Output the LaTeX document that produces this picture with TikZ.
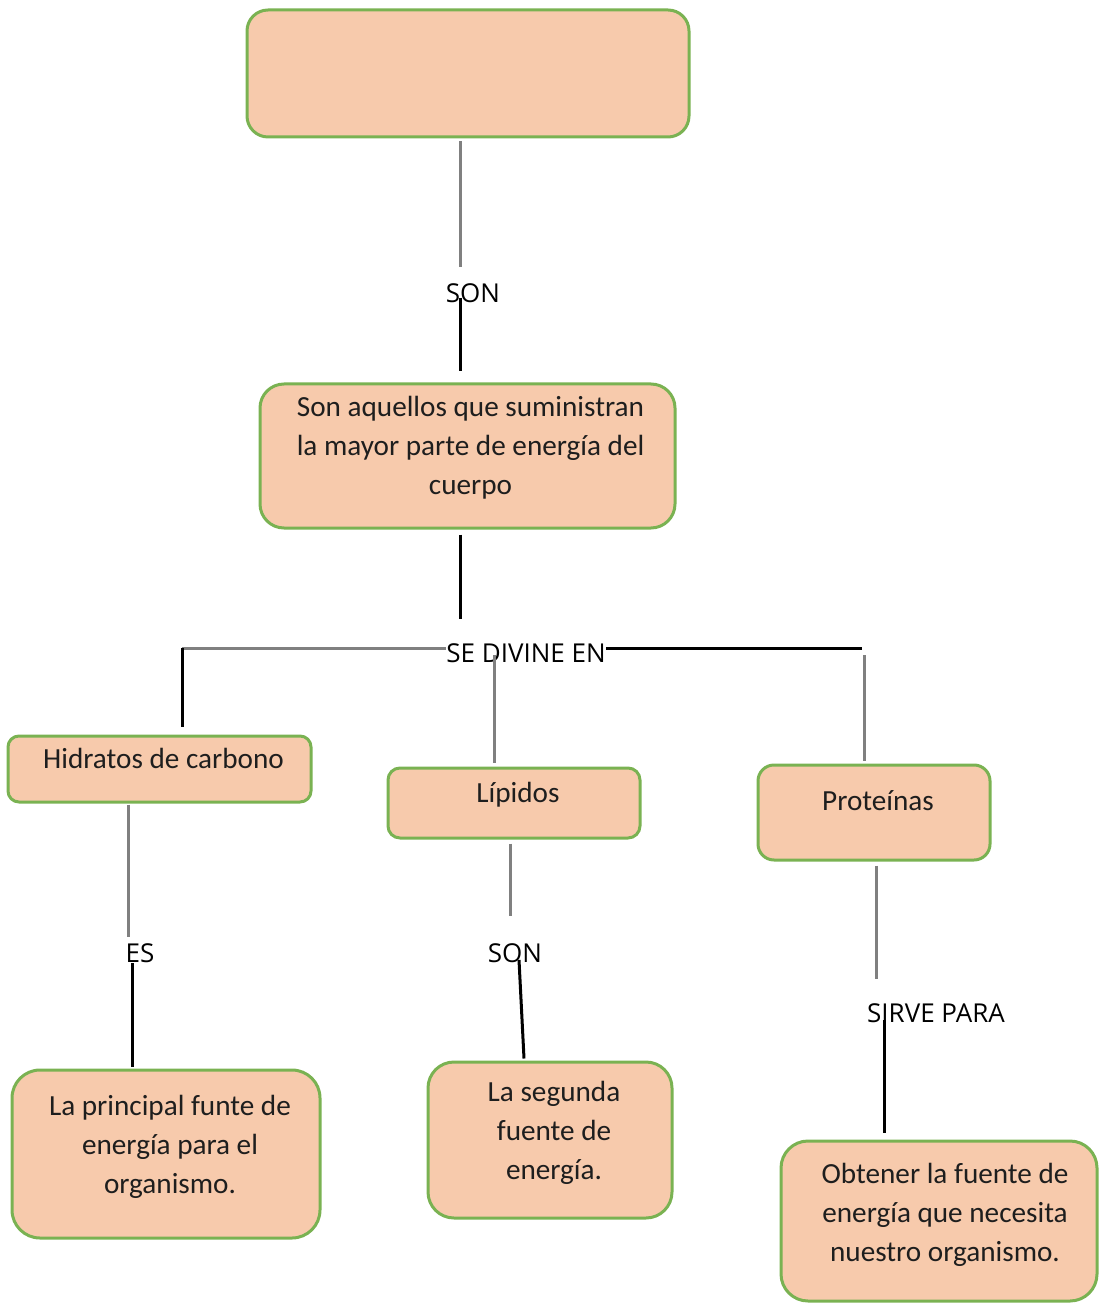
\documentclass[tikz,border=0pt]{standalone}
\usepackage{fontspec}
\setmainfont{Carlito}
\newfontfamily\tagfont{Open Sans}
\usetikzlibrary{positioning}
\definecolor{boxfill}{RGB}{247,202,172}
\definecolor{boxline}{RGB}{122,178,82}
\definecolor{linegray}{RGB}{128,128,128}
\definecolor{inkgray}{RGB}{30,30,30}

\begin{document}
\begin{tikzpicture}[x=0.5pt,y=-0.5pt,
  box/.style={draw=boxline,line width=1.5pt,fill=boxfill,inner sep=0pt},
  boxtext/.style={align=center,text=inkgray,inner sep=0pt,font=\fontsize{14.6}{19.4}\selectfont},
  tag/.style={inner sep=0pt,font=\tagfont\fontsize{13}{15}\selectfont},
  grayline/.style={draw=linegray,line width=1.5pt},
  blackline/.style={draw=black,line width=1.5pt}]

\useasboundingbox (0,0) rectangle (1101,1304);

% boxes
\node (top) [box,minimum width=221pt,minimum height=63.5pt,rounded corners=10.5pt] at (468,73.5) {};
\node (def) [box,minimum width=207.5pt,minimum height=72pt,rounded corners=12pt] at (467.5,456) {};
\node (hc) [box,minimum width=151.5pt,minimum height=33pt,rounded corners=5.5pt] at (159.5,769) {};
\node (lip) [box,minimum width=126pt,minimum height=35pt,rounded corners=6pt] at (514,803) {};
\node (pro) [box,minimum width=116pt,minimum height=47.5pt,rounded corners=8pt] at (874,812.5) {};
\node (eb) [box,minimum width=154pt,minimum height=84pt,rounded corners=14pt] at (166,1154) {};
\node (lb) [box,minimum width=122pt,minimum height=78pt,rounded corners=13pt] at (550,1140) {};
\node (pb) [box,minimum width=158pt,minimum height=80pt,rounded corners=13.5pt] at (939,1221) {};

% box texts
\node (deft) [boxtext] at ([xshift=1.5pt,yshift=4pt]def.center) {Son aquellos que suministran\\la mayor parte de energía del\\cuerpo};
\node (hct) [boxtext] at ([xshift=2pt,yshift=5.5pt]hc.center) {Hidratos de carbono};
\node (lipt) [boxtext] at ([xshift=2pt,yshift=4pt]lip.center) {Lípidos};
\node (prot) [boxtext] at ([xshift=2pt,yshift=6pt]pro.center) {Proteínas};
\node (ebt) [boxtext] at ([xshift=2pt,yshift=3.5pt]eb.center) {La principal funte de\\energía para el\\organismo.};
\node (lbt) [boxtext] at ([xshift=2pt,yshift=3.5pt]lb.center) {La segunda\\fuente de\\energía.};
\node (pbt) [boxtext] at ([xshift=3pt,yshift=3pt]pb.center) {Obtener la fuente de\\energía que necesita\\nuestro organismo.};

% labels
\node (son1) [tag] at (473,293) {SON};
\node (divide) [tag] at (526,653) {SE DIVINE EN};
\node (es) [tag] at (140,953) {ES};
\node (son2) [tag] at (515,953) {SON};
\node (serve) [tag] at (936,1013) {SIRVE PARA};

% columns and junctions
\coordinate (c1) at (460,0);
\coordinate (jl) at (182,648);
\coordinate (jm) at (494,655);
\coordinate (jr) at (864,648);
\coordinate (c2) at (128,0);
\coordinate (c2b) at (132,0);
\coordinate (c3) at (510,0);
\coordinate (c4) at (876,0);
\coordinate (c4b) at (884,0);

% top branch
\draw[grayline,shorten <=1.5pt,shorten >=7.8pt] (top.south -| c1) -- (son1.north -| c1);
\draw[blackline,shorten >=5.5pt] ([yshift=-2.5pt]son1.center -| c1) -- (def.north -| c1);
\draw[blackline,shorten <=2.5pt,shorten >=12pt] (def.south -| c1) -- (divide.north -| c1);

% division
\draw[grayline] (jl) -- (jl -| divide.west);
\draw[blackline] (jl -| divide.east) -- ([xshift=-1pt]jr);
\draw[blackline,shorten >=4pt] (jl) -- (hc.north -| jl);
\draw[grayline,shorten >=2pt] (jm) -- (lip.north -| jm);
\draw[grayline,shorten >=1.5pt] ([yshift=-3.5pt]jr) -- (pro.north -| jr);

% lower branches
\draw[grayline,shorten <=0.5pt,shorten >=3pt] (hc.south -| c2) -- (es.north -| c2);
\draw[blackline,shorten >=1pt] ([yshift=-5pt]es.center -| c2b) -- (eb.north -| c2b);
\draw[grayline,shorten <=2pt,shorten >=13.5pt] (lip.south -| c3) -- (son2.north -| c3);
\draw[blackline] ([xshift=2pt,yshift=-3.5pt]son2.center) -- ([xshift=-13pt,yshift=1pt]lb.north);
\draw[grayline,shorten <=2pt,shorten >=12pt] (pro.south -| c4) -- (serve.north -| c4);
\draw[blackline,shorten >=3.5pt] ([yshift=-3.5pt]serve.center -| c4b) -- (pb.north -| c4b);

\end{tikzpicture}
\end{document}
